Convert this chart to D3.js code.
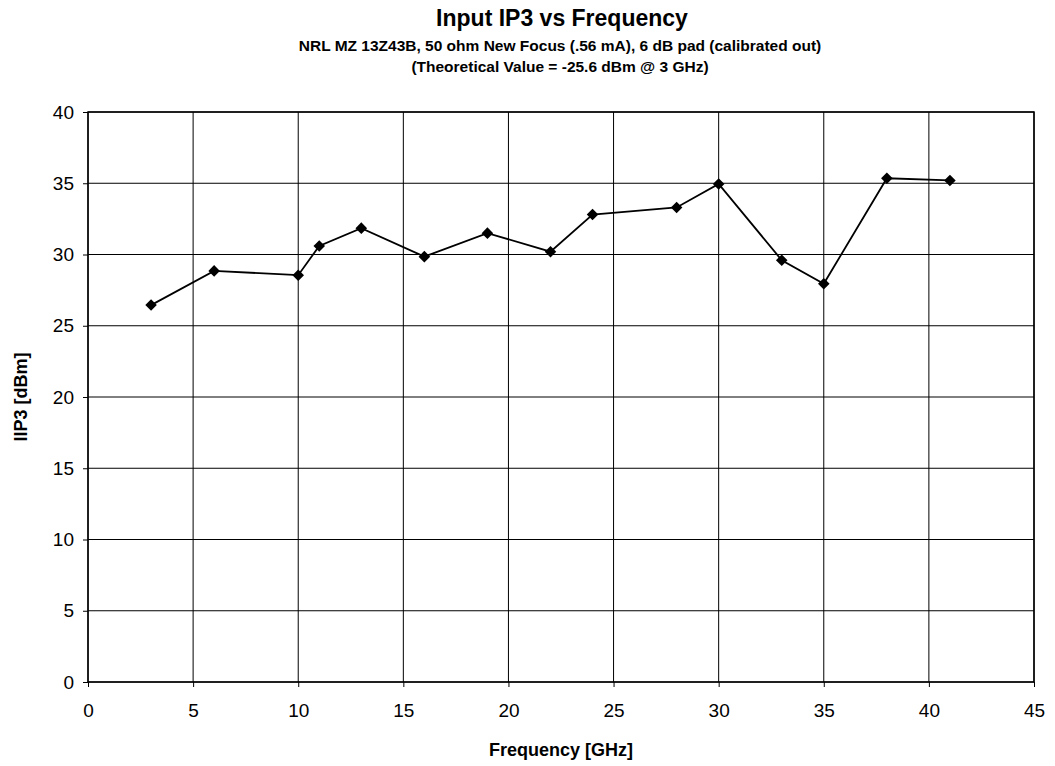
<!DOCTYPE html>
<html>
<head>
<meta charset="utf-8">
<script src="https://cdn.jsdelivr.net/npm/d3@7"></script>
<style>
  body { margin: 0; background: #fff; }
  text { font-family: "Liberation Sans", Arial, sans-serif; fill: #000; }
  .ttl { font-family: "Liberation Sans Narrow", "Liberation Sans", Arial, sans-serif; font-weight: bold; }
</style>
</head>
<body>
<div id="chart"></div>
<script>
// data
var freqs = [3, 6, 10, 11, 13, 16, 19, 22, 24, 28, 30, 33, 35, 38, 41];
var iip3 = [26.45, 28.85, 28.55, 30.6, 31.85, 29.85, 31.5, 30.2, 32.8, 33.3, 34.95, 29.6, 27.95, 35.35, 35.2];
var xTicks = [0, 5, 10, 15, 20, 25, 30, 35, 40, 45];
var yTicks = [0, 5, 10, 15, 20, 25, 30, 35, 40];

var margin = {top: 112, right: 21, bottom: 84, left: 88},
  width = 1055 - margin.left - margin.right,
  height = 766 - margin.top - margin.bottom;

var svg = d3.select("#chart")
  .append("svg")
  .attr("width", 1055)
  .attr("height", 766);

var g = svg.append("g")
  .attr("transform", "translate(" + margin.left + "," + margin.top + ")");

var x = d3.scaleLinear().domain([0, 45]).range([0, width]);
var y = d3.scaleLinear().domain([0, 40]).range([height, 0]);

// grid
g.selectAll("line.vgrid")
  .data(xTicks)
  .enter()
  .append("line")
    .attr("x1", function(d) { return x(d); })
    .attr("x2", function(d) { return x(d); })
    .attr("y1", 0)
    .attr("y2", height)
    .attr("stroke", "#000")
    .attr("stroke-width", 1);

g.selectAll("line.hgrid")
  .data(yTicks)
  .enter()
  .append("line")
    .attr("x1", 0)
    .attr("x2", width)
    .attr("y1", function(d) { return y(d); })
    .attr("y2", function(d) { return y(d); })
    .attr("stroke", "#000")
    .attr("stroke-width", 1);

// frame
g.append("rect")
  .attr("width", width)
  .attr("height", height)
  .attr("fill", "none")
  .attr("stroke", "#000")
  .attr("stroke-width", 1.5);

// axes
var xAxis = g.append("g")
  .attr("transform", "translate(0," + height + ")")
  .call(d3.axisBottom(x).tickValues(xTicks).tickSize(5).tickPadding(17));
var yAxis = g.append("g")
  .call(d3.axisLeft(y).tickValues(yTicks).tickSize(5).tickPadding(9));

[xAxis, yAxis].forEach(function(a) {
  a.select(".domain").remove();
  a.selectAll("text").attr("font-size", "19px").attr("font-family", "Liberation Sans, Arial, sans-serif");
  a.selectAll("line").attr("stroke", "#000");
});

// line + markers
var line = d3.line()
  .x(function(d, i) { return x(freqs[i]); })
  .y(function(d) { return y(d); });

g.append("path")
  .datum(iip3)
  .attr("d", line)
  .attr("fill", "none")
  .attr("stroke", "#000")
  .attr("stroke-width", 1.8);

g.selectAll("path.pt")
  .data(iip3)
  .enter()
  .append("path")
    .attr("class", "pt")
    .attr("d", d3.symbol().type(d3.symbolDiamond2).size(85))
    .attr("transform", function(d, i) { return "translate(" + x(freqs[i]) + "," + y(d) + ")"; })
    .attr("fill", "#000");

// titles
svg.append("text")
  .attr("class", "ttl")
  .attr("x", 562).attr("y", 26)
  .attr("text-anchor", "middle")
  .attr("font-size", "23px")
  .text("Input IP3 vs Frequency");

svg.append("text")
  .attr("class", "ttl")
  .attr("x", 560).attr("y", 51)
  .attr("text-anchor", "middle")
  .attr("font-size", "15.5px")
  .text("NRL MZ 13Z43B, 50 ohm New Focus (.56 mA), 6 dB pad (calibrated out)");

svg.append("text")
  .attr("class", "ttl")
  .attr("x", 560).attr("y", 72)
  .attr("text-anchor", "middle")
  .attr("font-size", "15.5px")
  .text("(Theoretical Value = -25.6 dBm @ 3 GHz)");

svg.append("text")
  .attr("x", 561).attr("y", 756)
  .attr("text-anchor", "middle")
  .attr("font-size", "18px")
  .attr("font-weight", "bold")
  .text("Frequency [GHz]");

svg.append("text")
  .attr("transform", "translate(27,397) rotate(-90)")
  .attr("text-anchor", "middle")
  .attr("font-size", "18px")
  .attr("font-weight", "bold")
  .text("IIP3 [dBm]");
</script>
</body>
</html>
